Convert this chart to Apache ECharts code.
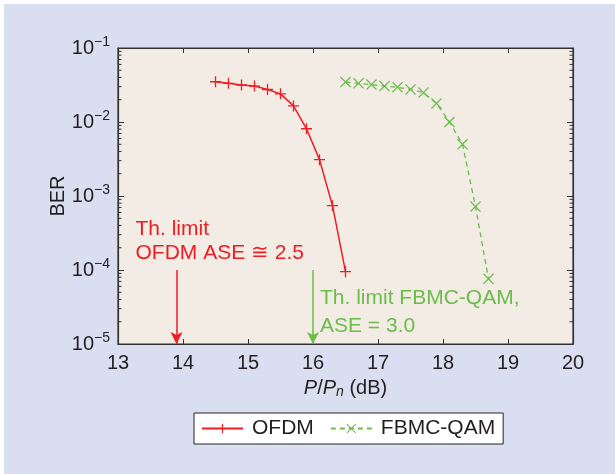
<!DOCTYPE html>
<html>
<head>
<meta charset="utf-8">
<script src="https://cdn.jsdelivr.net/npm/echarts@6/dist/echarts.min.js"></script>
<style>html,body{margin:0;padding:0;background:#fff;}#c{width:615px;height:474px;}</style>
</head>
<body>
<div id="c"></div>
<script>
// ---- data ----
var xTicks = [13, 14, 15, 16, 17, 18, 19, 20];
var yTickExps = [-5, -4, -3, -2, -1];
var ofdmX   = [14.5, 14.7, 14.9, 15.1, 15.3, 15.5, 15.7, 15.9, 16.1, 16.3, 16.5];
var ofdmBER = [0.035, 0.0333, 0.0316, 0.0306, 0.0275, 0.024, 0.0165, 0.0081, 0.0031, 0.00074, 0.000095];
var fbmcX   = [16.5, 16.7, 16.9, 17.1, 17.3, 17.5, 17.7, 17.9, 18.1, 18.3, 18.5, 18.7];
var fbmcBER = [0.0347, 0.0333, 0.032, 0.0306, 0.0295, 0.0275, 0.025, 0.0178, 0.0100, 0.0050, 0.00072, 0.000076];
var limitOFDM = 13.9;   // Th. limit OFDM (dB)
var limitFBMC = 16.0;   // Th. limit FBMC-QAM (dB)
var arrowFrom = 1e-4, arrowTo = 1e-5;

var RED = '#ee1d24', GREEN = '#6bbd4a', INK = '#231f20';
var FONT = '"Liberation Sans", Arial, Helvetica, sans-serif';

function pairs(xs, ys) { return xs.map(function (x, i) { return [x, ys[i]]; }); }
var minorVals = [];
yTickExps.slice(0, -1).forEach(function (e) {
  for (var m = 2; m <= 9; m++) minorVals.push([13, m * Math.pow(10, e)]);
});

var PLUS = 'path://M4.4,0H5.6V4.4H10V5.6H5.6V10H4.4V5.6H0V4.4H4.4Z';
var CROSS = 'path://M0,0.8L0.8,0L5,4.2L9.2,0L10,0.8L5.8,5L10,9.2L9.2,10L5,5.8L0.8,10L0,9.2L4.2,5Z';

var chart = echarts.init(document.getElementById('c'), null, {renderer: 'canvas'});
var axisLine = {show: true, lineStyle: {color: '#333', width: 1.2}};
var option = {
  animation: false,
  backgroundColor: '#ffffff',
  textStyle: {fontFamily: FONT},
  graphic: [
    {type: 'rect', left: 4, top: 4, shape: {width: 611, height: 470}, style: {fill: '#d9dff0'}, z: -100, silent: true},
    {type: 'text', left: 135.5, top: 216.5, z: 50, style: {text: 'Th. limit\nOFDM ASE \u2245 2.5', fill: RED, font: '21px ' + FONT, lineHeight: 24.5}},
    {type: 'text', left: 320, top: 285, z: 50, style: {text: 'Th. limit FBMC-QAM,\nASE = 3.0', fill: GREEN, font: '21px ' + FONT, lineHeight: 27.3}}
  ],
  grid: {left: 118, top: 48, width: 455, height: 296, show: true, backgroundColor: '#f2ece4', borderColor: '#333', borderWidth: 1.2, containLabel: false},
  legend: {
    left: 194, top: 413, padding: [5, 8, 5, 7], itemGap: 16, itemWidth: 41, itemHeight: 12,
    backgroundColor: '#ffffff', borderColor: '#222', borderWidth: 1,
    textStyle: {fontSize: 21, color: INK, fontFamily: FONT, padding: [0, 0, 0, 4]},
    data: ['OFDM', 'FBMC-QAM']
  },
  xAxis: [{
    type: 'value', min: 13, max: 20, interval: 1, position: 'bottom',
    axisLine: axisLine, splitLine: {show: false},
    axisTick: {show: true, inside: true, length: 5, lineStyle: {color: '#333'}},
    axisLabel: {fontSize: 20, color: INK, margin: 9, fontFamily: FONT,
      formatter: function (v) { return xTicks.indexOf(v) >= 0 ? String(v) : ''; }},
    name: '{i|P}{n|/}{i|P}{s|n}{n| (dB)}', nameLocation: 'middle', nameGap: 33, nameMoveOverlap: false,
    nameTextStyle: {rich: {
      i: {fontSize: 20, fontStyle: 'italic', color: INK, fontFamily: FONT},
      n: {fontSize: 20, color: INK, fontFamily: FONT},
      s: {fontSize: 14, fontStyle: 'italic', color: INK, fontFamily: FONT, padding: [8, 0, 0, 0]}
    }}
  }, {
    type: 'value', min: 13, max: 20, interval: 1, position: 'top',
    axisLine: axisLine, splitLine: {show: false}, axisLabel: {show: false},
    axisTick: {show: true, inside: true, length: 5, lineStyle: {color: '#333'}}
  }],
  yAxis: [{
    type: 'log', logBase: 10, min: 1e-5, max: 0.1, position: 'left',
    axisLine: axisLine, splitLine: {show: false},
    axisTick: {show: true, inside: true, length: 6, lineStyle: {color: '#333'}},
    axisLabel: {margin: 8, color: INK,
      formatter: function (v) { var e = Math.round(Math.log10(v)); return '{a|10}{b|\u2212' + (-e) + '}'; },
      rich: {
        a: {fontSize: 20, color: INK, fontFamily: FONT},
        b: {fontSize: 14, color: INK, fontFamily: FONT, padding: [0, 0, 12, 0]}
      }},
    name: 'BER', nameLocation: 'middle', nameGap: 50, nameRotate: 90, nameMoveOverlap: false,
    nameTextStyle: {fontSize: 20, color: INK, fontFamily: FONT}
  }, {
    type: 'log', logBase: 10, min: 1e-5, max: 0.1, position: 'right',
    axisLine: axisLine, splitLine: {show: false}, axisLabel: {show: false},
    axisTick: {show: true, inside: true, length: 6, lineStyle: {color: '#333'}}
  }],
  series: [{
    name: 'minor', type: 'custom', silent: true, data: minorVals, z: 3,
    renderItem: function (params, api) {
      var v = api.value(1);
      var l = api.coord([13, v]), r = api.coord([20, v]);
      return {type: 'group', children: [
        {type: 'line', shape: {x1: l[0], y1: l[1], x2: l[0] + 3.5, y2: l[1]}, style: {stroke: '#333', lineWidth: 1}},
        {type: 'line', shape: {x1: r[0] - 3.5, y1: r[1], x2: r[0], y2: r[1]}, style: {stroke: '#333', lineWidth: 1}}
      ]};
    }
  }, {
    name: 'OFDM', type: 'line', data: pairs(ofdmX, ofdmBER),
    symbol: PLUS, symbolSize: 11, showAllSymbol: true,
    lineStyle: {color: RED, width: 1.5}, itemStyle: {color: RED},
    markLine: {silent: true, symbol: ['none', 'arrow'], symbolSize: [9, 12], label: {show: false},
      lineStyle: {color: RED, width: 1.5, type: 'solid'},
      data: [[{coord: [limitOFDM, arrowFrom]}, {coord: [limitOFDM, arrowTo]}]]}
  }, {
    name: 'FBMC-QAM', type: 'line', data: pairs(fbmcX, fbmcBER),
    symbol: CROSS, symbolSize: 11, showAllSymbol: true,
    lineStyle: {color: GREEN, width: 1.3, type: [5, 4]}, itemStyle: {color: GREEN},
    markLine: {silent: true, symbol: ['none', 'arrow'], symbolSize: [9, 12], label: {show: false},
      lineStyle: {color: GREEN, width: 1.5, type: 'solid'},
      data: [[{coord: [limitFBMC, arrowFrom]}, {coord: [limitFBMC, arrowTo]}]]}
  }]
};
chart.setOption(option);
</script>
</body>
</html>
